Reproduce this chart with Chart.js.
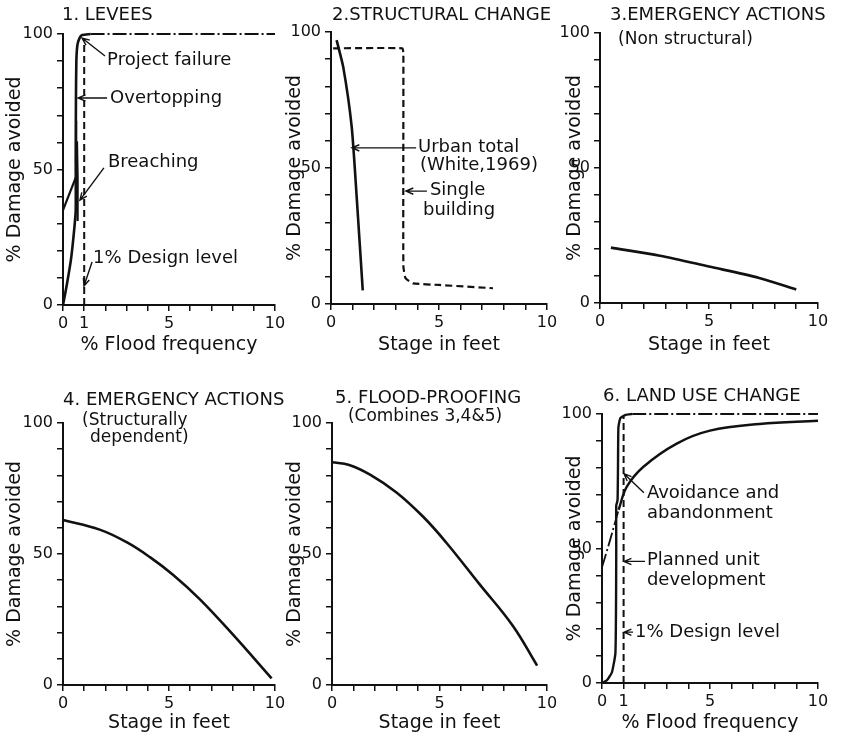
<!DOCTYPE html>
<html lang="en">
<head>
<meta charset="UTF-8">
<title>Damage avoided by flood adjustments</title>
<script src="https://cdn.jsdelivr.net/npm/chart.js"></script>
<style>
  body { margin: 0; background: #fff; }
  #page { position: relative; width: 841px; height: 738px; overflow: hidden; }
  .panel { position: absolute; }
</style>
</head>
<body>
<div id="page">
  <div class="panel" style="left:0;top:0"><canvas id="c1" width="300" height="360"></canvas></div>
  <div class="panel" style="left:280px;top:0"><canvas id="c2" width="290" height="360"></canvas></div>
  <div class="panel" style="left:560px;top:0"><canvas id="c3" width="281" height="360"></canvas></div>
  <div class="panel" style="left:0;top:360px"><canvas id="c4" width="300" height="378"></canvas></div>
  <div class="panel" style="left:280px;top:360px"><canvas id="c5" width="290" height="378"></canvas></div>
  <div class="panel" style="left:560px;top:360px"><canvas id="c6" width="281" height="378"></canvas></div>
</div>

<script>
// ---- data ----
const yTickLabels = [0, 50, 100];
const freqTickLabels = [0, 1, 5, 10];
const stageTickLabels = [0, 5, 10];

// 1. Levees
const p1OvertopX = [0, 0.17, 0.38, 0.53, 0.6, 0.6, 0.61, 0.63, 0.68, 0.78, 0.9, 1.3];
const p1OvertopY = [0, 7, 17, 28, 35, 55, 75, 90, 96, 98.5, 99.6, 100];
const p1TopX = [1.3, 10];
const p1TopY = [100, 100];
const p1BreachX = [0, 0.3, 0.6];
const p1BreachY = [35, 41, 47];
const p1RiseX = [0.69, 0.69, 0.66, 0.62];
const p1RiseY = [31, 47, 60, 68];
const p1DesignX = [1, 1];
const p1DesignY = [0, 98];

// 2. Structural change
const p2UrbanX = [0.26, 0.57, 0.96, 1.2, 1.47];
const p2UrbanY = [97, 87, 65, 38, 5];
const p2SingleX = [0.1, 3.3, 3.35, 3.35, 3.45, 3.8, 5, 7.5];
const p2SingleY = [94, 94, 92, 14, 9.5, 7.6, 7, 5.8];

// 3. Emergency actions (non structural)
const p3X = [0.5, 2.75, 5, 7.3, 9];
const p3Y = [20.5, 17.5, 13.5, 9.3, 5];

// 4. Emergency actions (structurally dependent)
const p4X = [0, 1.73, 3, 4.1, 5.2, 6.46, 8.03, 9.84];
const p4Y = [63, 59.3, 54.5, 48.8, 42, 32.7, 19.1, 2.5];

// 5. Flood-proofing
const p5X = [0, 0.8, 1.77, 3, 4.23, 5.3, 6.85, 8.4, 9.54];
const p5Y = [85, 84, 80.3, 73.5, 64.3, 54.5, 38.6, 22.7, 7.4];

// 6. Land use change
const p6SteepX = [0, 0.23, 0.46, 0.62, 0.65, 0.66, 0.66, 0.72, 0.74, 0.76, 0.85, 1.1, 1.4];
const p6SteepY = [0, 1, 4, 11, 30, 50, 66, 68, 80, 95, 98.5, 99.7, 100];
const p6TopX = [1.4, 10];
const p6TopY = [100, 100];
const p6SmoothStartX = [0, 0.38, 0.77];
const p6SmoothStartY = [43, 53.3, 64.4];
const p6SmoothX = [0.77, 1.15, 1.92, 3.46, 5, 7.3, 10];
const p6SmoothY = [64.4, 73, 80.4, 89, 93.8, 96.3, 97.5];
const p6DesignX = [1, 1];
const p6DesignY = [0, 99];

const INK = '#111';
const FONT = '"DejaVu Sans", sans-serif';

function series(xs, ys, width, dash, tension) {
    return {
        data: xs.map((x, i) => ({ x: x, y: ys[i] })),
        showLine: true,
        pointRadius: 0,
        borderColor: INK,
        borderWidth: width,
        borderDash: dash || [],
        tension: tension || 0,
        clip: 8
    };
}

// texts and arrows placed in data units, converted by the chart's scales
function notesPlugin(texts, arrows) {
    return {
        id: 'notes',
        afterDatasetsDraw(chart) {
            const ctx = chart.ctx, sx = chart.scales.x, sy = chart.scales.y;
            ctx.save();
            ctx.fillStyle = INK;
            ctx.strokeStyle = INK;
            ctx.textBaseline = 'middle';
            texts.forEach(t => {
                ctx.font = (t.size || 18) + 'px ' + FONT;
                ctx.fillText(t.text, sx.getPixelForValue(t.x), sy.getPixelForValue(t.y));
            });
            ctx.lineWidth = 1.4;
            arrows.forEach(a => {
                const x1 = sx.getPixelForValue(a[0]), y1 = sy.getPixelForValue(a[1]);
                const x2 = sx.getPixelForValue(a[2]), y2 = sy.getPixelForValue(a[3]);
                const ang = Math.atan2(y2 - y1, x2 - x1);
                ctx.beginPath();
                ctx.moveTo(x1, y1);
                ctx.lineTo(x2, y2);
                ctx.moveTo(x2 - 8 * Math.cos(ang - 0.4), y2 - 8 * Math.sin(ang - 0.4));
                ctx.lineTo(x2, y2);
                ctx.lineTo(x2 - 8 * Math.cos(ang + 0.4), y2 - 8 * Math.sin(ang + 0.4));
                ctx.stroke();
            });
            ctx.restore();
        }
    };
}

function makePanel(id, box, area, xTitle, xLabels, datasets, texts, arrows) {
    const axisGrid = { drawOnChartArea: false, drawTicks: true, tickLength: 6, color: INK, lineWidth: 1.5 };
    new Chart(document.getElementById(id), {
        type: 'scatter',
        data: { datasets: datasets },
        options: {
            responsive: false,
            animation: false,
            events: [],
            layout: {
                autoPadding: false,
                padding: { left: 0, top: area.t - box.y, right: box.x + box.w - area.r, bottom: 0 }
            },
            plugins: { legend: { display: false }, tooltip: { enabled: false } },
            scales: {
                x: {
                    type: 'linear', min: 0, max: 10,
                    afterFit: s => { s.height = box.y + box.h - area.b; },
                    ticks: {
                        stepSize: 1, autoSkip: false, maxRotation: 0, padding: 3,
                        color: INK, font: { family: FONT, size: 16 },
                        callback: v => xLabels.includes(v) ? String(v) : ''
                    },
                    grid: axisGrid,
                    border: { color: INK, width: 2 },
                    title: { display: true, text: xTitle, color: INK, font: { family: FONT, size: 19 }, padding: { top: 4, bottom: 4 } }
                },
                y: {
                    type: 'linear', min: 0, max: 100,
                    afterFit: s => { s.width = area.l - box.x; },
                    ticks: {
                        stepSize: 10, autoSkip: false, padding: 4,
                        color: INK, font: { family: FONT, size: 16 },
                        callback: v => yTickLabels.includes(v) ? String(v) : ''
                    },
                    grid: axisGrid,
                    border: { color: INK, width: 2 },
                    title: { display: true, text: '% Damage avoided', color: INK, font: { family: FONT, size: 19 }, padding: { top: 4, bottom: 4 } }
                }
            }
        },
        plugins: [notesPlugin(texts, arrows)]
    });
}

const DASH = [7, 4];
const DASHDOT = [14, 3, 2, 3];

makePanel('c1', { x: 0, y: 0, w: 300, h: 360 }, { l: 63, r: 275, t: 34, b: 305 },
    '% Flood frequency', freqTickLabels,
    [
        series(p1OvertopX, p1OvertopY, 2.6, null, 0.2),
        series(p1TopX, p1TopY, 2.2, DASHDOT),
        series(p1BreachX, p1BreachY, 2.2),
        series(p1RiseX, p1RiseY, 2.2),
        series(p1DesignX, p1DesignY, 2, DASH)
    ],
    [
        { text: '1. LEVEES', x: -0.05, y: 107 },
        { text: 'Project failure', x: 2.08, y: 90.4 },
        { text: 'Overtopping', x: 2.22, y: 76.4 },
        { text: 'Breaching', x: 2.12, y: 52.8 },
        { text: '1% Design level', x: 1.42, y: 17.3 }
    ],
    [
        [1.98, 91.9, 0.9, 98.5],
        [2.08, 76.4, 0.71, 76.4],
        [1.93, 50.6, 0.8, 38.7],
        [1.37, 15.9, 0.99, 7]
    ]);

makePanel('c2', { x: 280, y: 0, w: 290, h: 360 }, { l: 331, r: 547, t: 32, b: 304 },
    'Stage in feet', stageTickLabels,
    [
        series(p2UrbanX, p2UrbanY, 2.6, null, 0.2),
        series(p2SingleX, p2SingleY, 2.2, DASH, 0.15)
    ],
    [
        { text: '2.STRUCTURAL CHANGE', x: 0.05, y: 106.3 },
        { text: 'Urban total', x: 4.03, y: 57.7 },
        { text: '(White,1969)', x: 4.12, y: 51.1 },
        { text: 'Single', x: 4.58, y: 41.9 },
        { text: 'building', x: 4.26, y: 34.6 }
    ],
    [
        [3.94, 57.4, 0.97, 57.4],
        [4.44, 41.5, 3.47, 41.5]
    ]);

makePanel('c3', { x: 560, y: 0, w: 281, h: 360 }, { l: 600, r: 818, t: 33, b: 303 },
    'Stage in feet', stageTickLabels,
    [series(p3X, p3Y, 2.6, null, 0.3)],
    [
        { text: '3.EMERGENCY ACTIONS', x: 0.46, y: 106.7 },
        { text: '(Non structural)', x: 0.83, y: 97.4, size: 17 }
    ],
    []);

makePanel('c4', { x: 0, y: 360, w: 300, h: 378 }, { l: 63, r: 275, t: 423, b: 685 },
    'Stage in feet', stageTickLabels,
    [series(p4X, p4Y, 2.6, null, 0.4)],
    [
        { text: '4. EMERGENCY ACTIONS', x: 0, y: 108.8 },
        { text: '(Structurally', x: 0.9, y: 101.1, size: 17 },
        { text: 'dependent)', x: 1.27, y: 94.3, size: 17 }
    ],
    []);

makePanel('c5', { x: 280, y: 360, w: 290, h: 378 }, { l: 332, r: 547, t: 423, b: 685 },
    'Stage in feet', stageTickLabels,
    [series(p5X, p5Y, 2.6, null, 0.4)],
    [
        { text: '5. FLOOD-PROOFING', x: 0.14, y: 109.5 },
        { text: '(Combines 3,4&5)', x: 0.74, y: 102.3, size: 17 }
    ],
    []);

makePanel('c6', { x: 560, y: 360, w: 281, h: 378 }, { l: 602, r: 818, t: 414, b: 683 },
    '% Flood frequency', freqTickLabels,
    [
        series(p6SteepX, p6SteepY, 2.4, null, 0.15),
        series(p6TopX, p6TopY, 2.2, DASHDOT),
        series(p6SmoothStartX, p6SmoothStartY, 1.8, DASHDOT, 0.2),
        series(p6SmoothX, p6SmoothY, 2.4, null, 0.4),
        series(p6DesignX, p6DesignY, 2, DASH)
    ],
    [
        { text: '6. LAND USE CHANGE', x: 0.05, y: 106.7 },
        { text: 'Avoidance and', x: 2.08, y: 70.4 },
        { text: 'abandonment', x: 2.08, y: 63 },
        { text: 'Planned unit', x: 2.08, y: 45.6 },
        { text: 'development', x: 2.08, y: 38.1 },
        { text: '1% Design level', x: 1.53, y: 18.9 }
    ],
    [
        [1.94, 70.7, 1.02, 77.8],
        [1.99, 45.2, 1.02, 45.2],
        [1.44, 18.9, 1.02, 18.9]
    ]);
</script>
</body>
</html>
